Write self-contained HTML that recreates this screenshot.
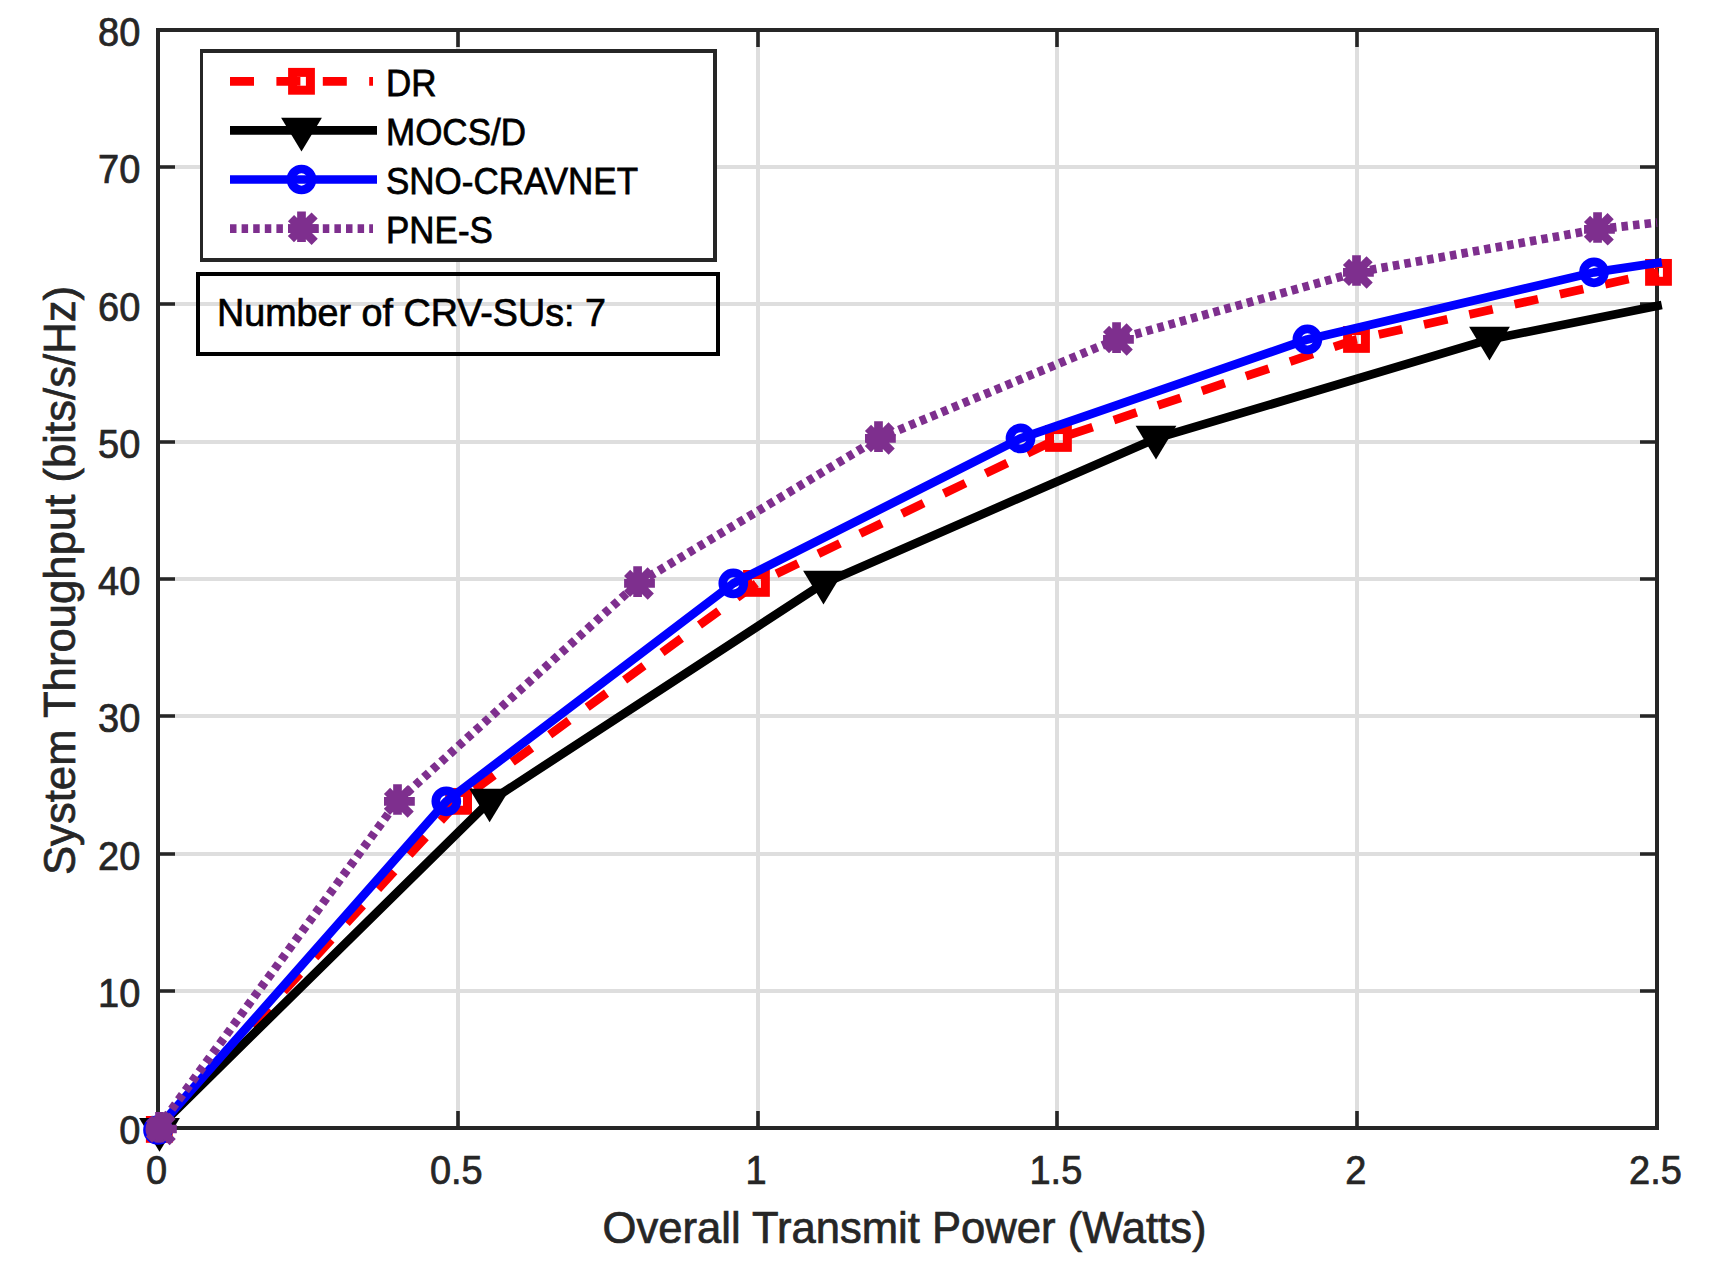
<!DOCTYPE html>
<html><head><meta charset="utf-8"><title>System Throughput vs Overall Transmit Power</title>
<style>html,body{margin:0;padding:0;background:#fff;}svg{display:block;}text{font-family:"Liberation Sans",sans-serif;}</style></head>
<body><svg width="1712" height="1276" viewBox="0 0 1712 1276"><rect width="1712" height="1276" fill="#ffffff"/><path d="M458 30.0V1128.0M758 30.0V1128.0M1057 30.0V1128.0M1357 30.0V1128.0M158.0 991H1657.0M158.0 854H1657.0M158.0 716H1657.0M158.0 579H1657.0M158.0 442H1657.0M158.0 304H1657.0M158.0 167H1657.0" stroke="#dedede" stroke-width="4" fill="none"/><path d="M458 1128.0V1111.0M458 30.0V47.0M758 1128.0V1111.0M758 30.0V47.0M1057 1128.0V1111.0M1057 30.0V47.0M1357 1128.0V1111.0M1357 30.0V47.0M158.0 991H175.0M1657.0 991H1640.0M158.0 854H175.0M1657.0 854H1640.0M158.0 716H175.0M1657.0 716H1640.0M158.0 579H175.0M1657.0 579H1640.0M158.0 442H175.0M1657.0 442H1640.0M158.0 304H175.0M1657.0 304H1640.0M158.0 167H175.0M1657.0 167H1640.0" stroke="#262626" stroke-width="3.6" fill="none"/><rect x="158.0" y="30.0" width="1499.0" height="1098.0" fill="none" stroke="#262626" stroke-width="4"/><g font-size="38" fill="#262626" stroke="#262626" stroke-width="0.7"><text transform="translate(156.50 1184) scale(1 1.05)" text-anchor="middle">0</text><text transform="translate(456.30 1184) scale(1 1.05)" text-anchor="middle">0.5</text><text transform="translate(756.10 1184) scale(1 1.05)" text-anchor="middle">1</text><text transform="translate(1055.90 1184) scale(1 1.05)" text-anchor="middle">1.5</text><text transform="translate(1355.70 1184) scale(1 1.05)" text-anchor="middle">2</text><text transform="translate(1655.50 1184) scale(1 1.05)" text-anchor="middle">2.5</text><text transform="translate(140.3 1144.00) scale(1 1.05)" text-anchor="end">0</text><text transform="translate(140.3 1006.75) scale(1 1.05)" text-anchor="end">10</text><text transform="translate(140.3 869.50) scale(1 1.05)" text-anchor="end">20</text><text transform="translate(140.3 732.25) scale(1 1.05)" text-anchor="end">30</text><text transform="translate(140.3 595.00) scale(1 1.05)" text-anchor="end">40</text><text transform="translate(140.3 457.75) scale(1 1.05)" text-anchor="end">50</text><text transform="translate(140.3 320.50) scale(1 1.05)" text-anchor="end">60</text><text transform="translate(140.3 183.25) scale(1 1.05)" text-anchor="end">70</text><text transform="translate(140.3 46.00) scale(1 1.05)" text-anchor="end">80</text></g><text x="904.5" y="1243" text-anchor="middle" font-size="43.6" fill="#262626" stroke="#262626" stroke-width="0.7">Overall Transmit Power (Watts)</text><text transform="translate(74.5 580.5) rotate(-90)" x="0" y="0" text-anchor="middle" font-size="43.7" fill="#262626" stroke="#262626" stroke-width="0.7">System Throughput (bits/s/Hz)</text><path d="M158.00 1128.00L458.60 801.35L756.45 583.40L1058.45 438.45L1356.50 339.45L1658.50 272.37" stroke="#ff0000" stroke-width="8.7" fill="none" stroke-linejoin="round" stroke-dasharray="24 22.4"/><rect x="150.40" y="1120.50" width="17.80" height="17.80" fill="none" stroke="#ff0000" stroke-width="9"/><rect x="449.70" y="792.45" width="17.80" height="17.80" fill="none" stroke="#ff0000" stroke-width="9"/><rect x="747.55" y="574.50" width="17.80" height="17.80" fill="none" stroke="#ff0000" stroke-width="9"/><rect x="1049.55" y="429.55" width="17.80" height="17.80" fill="none" stroke="#ff0000" stroke-width="9"/><rect x="1347.60" y="330.55" width="17.80" height="17.80" fill="none" stroke="#ff0000" stroke-width="9"/><rect x="1649.60" y="263.47" width="17.80" height="17.80" fill="none" stroke="#ff0000" stroke-width="9"/><path d="M158.00 1128.00L489.60 801.35L823.50 583.40L1156.00 438.45L1489.50 339.45L1657.50 305.91" stroke="#000000" stroke-width="8.7" fill="none" stroke-linejoin="round" stroke-linecap="square"/><path d="M139.10 1118.10H179.90L159.50 1151.80Z" fill="#000000"/><path d="M469.20 788.65H510.00L489.60 822.35Z" fill="#000000"/><path d="M803.10 570.70H843.90L823.50 604.40Z" fill="#000000"/><path d="M1135.60 425.75H1176.40L1156.00 459.45Z" fill="#000000"/><path d="M1469.10 326.75H1509.90L1489.50 360.45Z" fill="#000000"/><path d="M158.00 1128.00L446.30 801.35L733.30 583.40L1020.50 438.45L1307.40 339.45L1594.00 272.37L1657.50 262.84" stroke="#0000ff" stroke-width="8.7" fill="none" stroke-linejoin="round" stroke-linecap="square"/><circle cx="158.00" cy="1130.00" r="10.5" fill="none" stroke="#0000ff" stroke-width="8.7"/><circle cx="446.30" cy="801.35" r="10.5" fill="none" stroke="#0000ff" stroke-width="8.7"/><circle cx="733.30" cy="583.40" r="10.5" fill="none" stroke="#0000ff" stroke-width="8.7"/><circle cx="1020.50" cy="438.45" r="10.5" fill="none" stroke="#0000ff" stroke-width="8.7"/><circle cx="1307.40" cy="339.45" r="10.5" fill="none" stroke="#0000ff" stroke-width="8.7"/><circle cx="1594.00" cy="272.37" r="10.5" fill="none" stroke="#0000ff" stroke-width="8.7"/><path d="M158.00 1128.00L397.50 801.35L637.60 583.40L878.50 438.45L1116.55 339.45L1356.50 272.37L1597.55 229.30L1657.00 222.56" stroke="#7e2f8e" stroke-width="8.7" fill="none" stroke-linejoin="round" stroke-dasharray="6.5 5.1"/><circle cx="159.00" cy="1129.00" r="13.5" fill="#7e2f8e"/><path d="M159.50 1111.90V1142.50M146.00 1129.00H176.80M149.00 1118.50L172.70 1142.20M148.90 1139.60L172.60 1115.90" stroke="#7e2f8e" stroke-width="8.7" fill="none" stroke-linecap="butt"/><path d="M397.50 784.25V814.85M384.00 801.35H414.80M387.00 790.85L410.70 814.55M386.90 811.95L410.60 788.25" stroke="#7e2f8e" stroke-width="8.7" fill="none" stroke-linecap="butt"/><path d="M637.60 566.30V596.90M624.10 583.40H654.90M627.10 572.90L650.80 596.60M627.00 594.00L650.70 570.30" stroke="#7e2f8e" stroke-width="8.7" fill="none" stroke-linecap="butt"/><path d="M878.50 421.35V451.95M865.00 438.45H895.80M868.00 427.95L891.70 451.65M867.90 449.05L891.60 425.35" stroke="#7e2f8e" stroke-width="8.7" fill="none" stroke-linecap="butt"/><path d="M1116.55 322.35V352.95M1103.05 339.45H1133.85M1106.05 328.95L1129.75 352.65M1105.95 350.05L1129.65 326.35" stroke="#7e2f8e" stroke-width="8.7" fill="none" stroke-linecap="butt"/><path d="M1356.50 255.27V285.87M1343.00 272.37H1373.80M1346.00 261.87L1369.70 285.57M1345.90 282.97L1369.60 259.27" stroke="#7e2f8e" stroke-width="8.7" fill="none" stroke-linecap="butt"/><path d="M1597.55 212.20V242.80M1584.05 229.30H1614.85M1587.05 218.80L1610.75 242.50M1586.95 239.90L1610.65 216.20" stroke="#7e2f8e" stroke-width="8.7" fill="none" stroke-linecap="butt"/><rect x="200" y="49" width="517" height="213" fill="#ffffff"/><path d="M200 49H717V262H200Z M203 53V258H713V53Z" fill="#262626" fill-rule="evenodd"/><path d="M230 81.3H373" stroke="#ff0000" stroke-width="8.7" fill="none" stroke-dasharray="24 22.4"/><rect x="292.60" y="72.40" width="17.80" height="17.80" fill="none" stroke="#ff0000" stroke-width="9"/><text transform="translate(386 95.8) scale(1 1.075)" font-size="35" fill="#000" stroke="#000" stroke-width="0.7">DR</text><path d="M230 130.4H377" stroke="#000000" stroke-width="8.7" fill="none"/><path d="M281.10 117.70H321.90L301.50 151.40Z" fill="#000000"/><text transform="translate(386 144.9) scale(1 1.075)" font-size="35" fill="#000" stroke="#000" stroke-width="0.7">MOCS/D</text><path d="M230 179.5H377" stroke="#0000ff" stroke-width="8.7" fill="none"/><circle cx="301.50" cy="179.50" r="10.5" fill="none" stroke="#0000ff" stroke-width="8.7"/><text transform="translate(386 194.0) scale(1 1.075)" font-size="35" fill="#000" stroke="#000" stroke-width="0.7">SNO-CRAVNET</text><path d="M230 228.6H373" stroke="#7e2f8e" stroke-width="8.7" fill="none" stroke-dasharray="6.5 5.1"/><path d="M301.50 211.50V242.10M288.00 228.60H318.80M291.00 218.10L314.70 241.80M290.90 239.20L314.60 215.50" stroke="#7e2f8e" stroke-width="8.7" fill="none" stroke-linecap="butt"/><text transform="translate(386 243.1) scale(1 1.075)" font-size="35" fill="#000" stroke="#000" stroke-width="0.7">PNE-S</text><path d="M196 272H720V356H196Z M200 276V352H716V276Z" fill="#000" fill-rule="evenodd"/><text transform="translate(217 326) scale(1 1.035)" font-size="37.7" fill="#000" stroke="#000" stroke-width="0.7">Number of CRV-SUs: 7</text></svg></body></html>
